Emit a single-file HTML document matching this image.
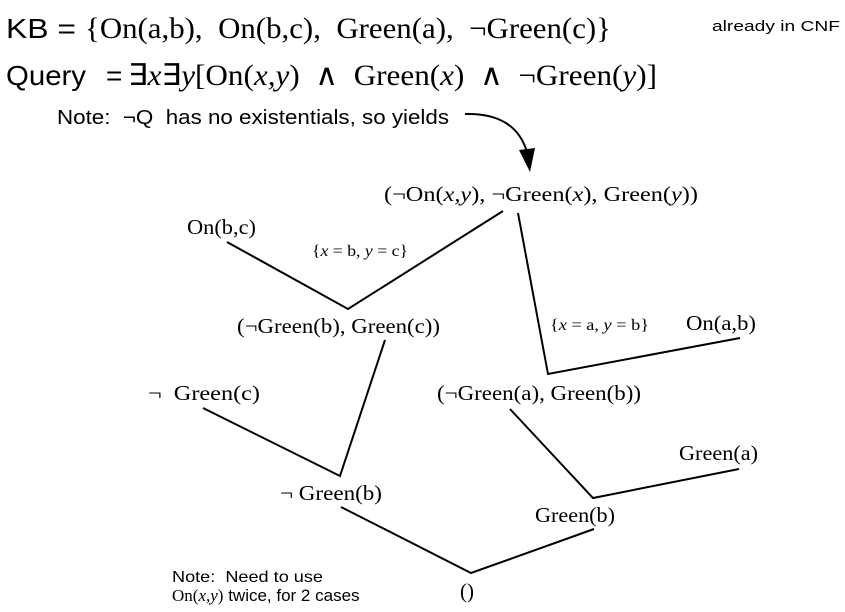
<!DOCTYPE html>
<html><head><meta charset="utf-8"><style>
html,body{margin:0;padding:0;background:#fff;}
svg{display:block;}
.a{font-family:"Liberation Sans",Arial,sans-serif;}
.t{font-family:"Liberation Serif","Times New Roman",serif;}
</style></head><body>
<svg width="845" height="612" viewBox="0 0 845 612" xmlns="http://www.w3.org/2000/svg">
<rect width="845" height="612" fill="#fff"/>
<g fill="#000">
<text x="6" y="38" class="a" font-size="28" textLength="70" lengthAdjust="spacingAndGlyphs">KB =</text>
<text x="85" y="38" class="t" font-size="30" textLength="526" lengthAdjust="spacingAndGlyphs" xml:space="preserve">{On(a,b),  On(b,c),  Green(a),  ¬Green(c)}</text>
<text x="712" y="31" class="a" font-size="15" textLength="128" lengthAdjust="spacingAndGlyphs">already in CNF</text>
<text x="6" y="85" class="a" font-size="28" textLength="80" lengthAdjust="spacingAndGlyphs">Query</text>
<text x="106" y="85" class="a" font-size="28">=</text>
<text x="128" y="85" class="t" font-size="30" textLength="529" lengthAdjust="spacingAndGlyphs" xml:space="preserve">∃<tspan font-style="italic">x</tspan>∃<tspan font-style="italic">y</tspan>[On(<tspan font-style="italic">x,y</tspan>)  ∧  Green(<tspan font-style="italic">x</tspan>)  ∧  ¬Green(<tspan font-style="italic">y</tspan>)]</text>
<text x="57" y="124" class="a" font-size="20" textLength="392" lengthAdjust="spacingAndGlyphs" xml:space="preserve">Note:  ¬Q  has no existentials, so yields</text>

<text x="384" y="201" class="t" font-size="21" textLength="314" lengthAdjust="spacingAndGlyphs" xml:space="preserve">(¬On(<tspan font-style="italic">x,y</tspan>), ¬Green(<tspan font-style="italic">x</tspan>), Green(<tspan font-style="italic">y</tspan>))</text>
<text x="187" y="234" class="t" font-size="21" textLength="69" lengthAdjust="spacingAndGlyphs">On(b,c)</text>
<text x="312" y="256" class="t" font-size="16" textLength="96" lengthAdjust="spacingAndGlyphs" xml:space="preserve">{<tspan font-style="italic">x</tspan> = b, <tspan font-style="italic">y</tspan> = c}</text>
<text x="237" y="333" class="t" font-size="21" textLength="203" lengthAdjust="spacingAndGlyphs">(¬Green(b), Green(c))</text>
<text x="550" y="330" class="t" font-size="16" textLength="99" lengthAdjust="spacingAndGlyphs" xml:space="preserve">{<tspan font-style="italic">x</tspan> = a, <tspan font-style="italic">y</tspan> = b}</text>
<text x="686" y="330" class="t" font-size="21" textLength="70" lengthAdjust="spacingAndGlyphs">On(a,b)</text>
<text x="148" y="400" class="t" font-size="21" textLength="112" lengthAdjust="spacingAndGlyphs" xml:space="preserve">¬  Green(c)</text>
<text x="437" y="400" class="t" font-size="21" textLength="204" lengthAdjust="spacingAndGlyphs">(¬Green(a), Green(b))</text>
<text x="679" y="460" class="t" font-size="21" textLength="79" lengthAdjust="spacingAndGlyphs">Green(a)</text>
<text x="280" y="500" class="t" font-size="21" textLength="102" lengthAdjust="spacingAndGlyphs" xml:space="preserve">¬ Green(b)</text>
<text x="535" y="522" class="t" font-size="21" textLength="80" lengthAdjust="spacingAndGlyphs">Green(b)</text>
<text x="172" y="582" class="a" font-size="16" textLength="151" lengthAdjust="spacingAndGlyphs" xml:space="preserve">Note:  Need to use</text>
<text x="172" y="601" font-size="17"><tspan class="t">On(<tspan font-style="italic">x,y</tspan>)</tspan><tspan class="a"> twice, for 2 cases</tspan></text>
<text x="460" y="598" class="t" font-size="21">()</text>
</g>
<g stroke="#000" stroke-width="2" fill="none">
<path d="M465 114 C 497 113, 519 125, 527 152"/>
<polyline points="227,242 348,309 503,211"/>
<polyline points="518,213 548,374 740,338"/>
<polyline points="203,408 340,476 385,340"/>
<polyline points="510,409 593,498 739,469"/>
<polyline points="341,507 471,573 594,529"/>
</g>
<polygon points="519,150 535,148 530,172" fill="#000"/>
</svg>
</body></html>
